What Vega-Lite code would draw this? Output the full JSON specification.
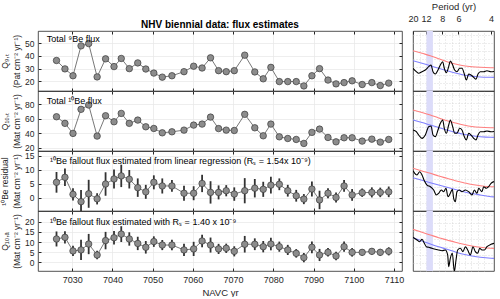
{
"$schema": "https://vega.github.io/schema/vega-lite/v6.json",
"background": "white",
"padding": {"left": 0, "top": 0, "right": 0, "bottom": 0},
"config": {
 "font": "Liberation Sans",
 "view": {"stroke": "#262626", "strokeWidth": 0.8},
 "axis": {"labelFontSize": 9, "labelColor": "#262626", "titleColor": "#262626", "titleFontSize": 8.5, "titleFontWeight": "normal", "gridColor": "#e6e6e6", "gridWidth": 0.7, "tickColor": "#262626", "domain": false, "titleLineHeight": 12},
 "axisY": {"labelFontSize": 8.5},
 "title": {"fontSize": 10, "color": "#000000"}
},
"datasets": {
 "flux": [
  {"yr":7026.1,"q9":36.4,"q10":62.5,"res":5.5,"rlo":1.8,"rhi":9.2,"qa":11.5,"alo":7.8,"ahi":15.2},
  {"yr":7028.2,"q9":29.8,"q10":53.4,"res":7.3,"rlo":4.2,"rhi":10.4,"qa":12.3,"alo":9.3,"ahi":15.3},
  {"yr":7030.2,"q9":24.4,"q10":39.6,"res":1.2,"rlo":-1.0,"rhi":3.4,"qa":5.6,"alo":3.1,"ahi":8.1},
  {"yr":7032.2,"q9":47.9,"q10":72.7,"res":-1.4,"rlo":-5.6,"rhi":2.8,"qa":6.1,"alo":1.1,"ahi":11.1},
  {"yr":7034.1,"q9":49.7,"q10":78.6,"res":1.4,"rlo":-3.6,"rhi":6.4,"qa":9.0,"alo":4.0,"ahi":14.0},
  {"yr":7036.2,"q9":23.5,"q10":35.9,"res":-0.4,"rlo":-2.4,"rhi":1.6,"qa":3.6,"alo":1.5,"ahi":5.7},
  {"yr":7038.3,"q9":37.7,"q10":63.9,"res":4.9,"rlo":0.7,"rhi":9.1,"qa":10.7,"alo":6.4,"ahi":15.0},
  {"yr":7040.4,"q9":31.6,"q10":55.6,"res":6.7,"rlo":3.3,"rhi":10.1,"qa":12.1,"alo":8.8,"ahi":15.4},
  {"yr":7042.2,"q9":38.0,"q10":67.1,"res":7.8,"rlo":3.8,"rhi":11.8,"qa":13.9,"alo":10.0,"ahi":17.8},
  {"yr":7044.2,"q9":30.0,"q10":53.4,"res":6.6,"rlo":3.3,"rhi":9.9,"qa":11.5,"alo":8.2,"ahi":14.8},
  {"yr":7046.3,"q9":34.5,"q10":57.9,"res":3.6,"rlo":0.3,"rhi":6.9,"qa":9.3,"alo":6.0,"ahi":12.6},
  {"yr":7048.3,"q9":29.7,"q10":48.7,"res":2.1,"rlo":-0.4,"rhi":4.6,"qa":7.4,"alo":4.3,"ahi":10.5},
  {"yr":7050.3,"q9":26.5,"q10":46.4,"res":5.5,"rlo":3.0,"rhi":8.0,"qa":10.2,"alo":7.6,"ahi":12.8},
  {"yr":7052.4,"q9":23.3,"q10":40.4,"res":4.2,"rlo":1.5,"rhi":6.9,"qa":8.5,"alo":6.0,"ahi":11.0},
  {"yr":7054.8,"q9":24.4,"q10":41.8,"res":4.2,"rlo":2.1,"rhi":6.3,"qa":8.5,"alo":5.9,"ahi":11.1},
  {"yr":7057.8,"q9":27.6,"q10":44.1,"res":1.6,"rlo":-1.1,"rhi":4.3,"qa":6.1,"alo":3.1,"ahi":9.1},
  {"yr":7060.2,"q9":31.9,"q10":51.0,"res":1.6,"rlo":-0.9,"rhi":4.1,"qa":6.6,"alo":3.1,"ahi":10.1},
  {"yr":7062.3,"q9":30.5,"q10":52.4,"res":5.1,"rlo":2.0,"rhi":8.2,"qa":10.5,"alo":7.4,"ahi":13.6},
  {"yr":7064.4,"q9":38.5,"q10":62.0,"res":1.9,"rlo":-2.1,"rhi":5.9,"qa":8.5,"alo":4.8,"ahi":12.2},
  {"yr":7066.4,"q9":28.4,"q10":46.2,"res":1.9,"rlo":-0.6,"rhi":4.4,"qa":6.6,"alo":4.1,"ahi":9.1},
  {"yr":7068.3,"q9":27.6,"q10":44.1,"res":2.5,"rlo":0.5,"rhi":4.5,"qa":6.9,"alo":4.6,"ahi":9.2},
  {"yr":7070.3,"q9":28.4,"q10":43.6,"res":1.3,"rlo":-1.1,"rhi":3.7,"qa":5.4,"alo":2.9,"ahi":7.9},
  {"yr":7072.9,"q9":40.6,"q10":65.8,"res":2.5,"rlo":-2.0,"rhi":7.0,"qa":8.9,"alo":4.8,"ahi":13.0},
  {"yr":7075.4,"q9":27.4,"q10":47.3,"res":3.4,"rlo":0.1,"rhi":6.7,"qa":8.9,"alo":6.0,"ahi":11.8},
  {"yr":7077.5,"q9":22.0,"q10":36.3,"res":3.0,"rlo":0.3,"rhi":5.7,"qa":7.7,"alo":4.9,"ahi":10.5},
  {"yr":7079.4,"q9":31.0,"q10":52.4,"res":4.5,"rlo":1.5,"rhi":7.5,"qa":9.0,"alo":5.9,"ahi":12.1},
  {"yr":7081.5,"q9":19.8,"q10":34.9,"res":4.8,"rlo":2.7,"rhi":6.9,"qa":7.7,"alo":5.2,"ahi":10.2},
  {"yr":7083.6,"q9":19.8,"q10":32.6,"res":2.5,"rlo":0.4,"rhi":4.6,"qa":6.1,"alo":3.6,"ahi":8.6},
  {"yr":7085.7,"q9":19.8,"q10":31.3,"res":0.7,"rlo":-1.4,"rhi":2.8,"qa":4.4,"alo":2.3,"ahi":6.5},
  {"yr":7087.6,"q9":16.4,"q10":25.8,"res":-0.5,"rlo":-2.3,"rhi":1.3,"qa":2.3,"alo":0.0,"ahi":4.6},
  {"yr":7089.6,"q9":24.4,"q10":41.0,"res":3.1,"rlo":0.4,"rhi":5.8,"qa":7.4,"alo":4.5,"ahi":10.3},
  {"yr":7091.5,"q9":30.0,"q10":45.5,"res":-0.8,"rlo":-4.1,"rhi":2.5,"qa":3.6,"alo":0.6,"ahi":6.6},
  {"yr":7093.6,"q9":21.0,"q10":34.0,"res":1.6,"rlo":-0.2,"rhi":3.4,"qa":4.9,"alo":2.8,"ahi":7.0},
  {"yr":7095.6,"q9":18.0,"q10":28.0,"res":0.1,"rlo":-1.7,"rhi":1.9,"qa":3.1,"alo":1.0,"ahi":5.2},
  {"yr":7097.6,"q9":19.0,"q10":33.6,"res":4.2,"rlo":2.1,"rhi":6.3,"qa":7.7,"alo":5.2,"ahi":10.2},
  {"yr":7099.6,"q9":20.4,"q10":33.6,"res":1.0,"rlo":-1.1,"rhi":3.1,"qa":4.9,"alo":2.8,"ahi":7.0},
  {"yr":7102.1,"q9":17.5,"q10":29.0,"res":1.8,"rlo":0.3,"rhi":3.3,"qa":4.9,"alo":3.3,"ahi":6.5},
  {"yr":7104.5,"q9":19.0,"q10":31.7,"res":1.9,"rlo":0.1,"rhi":3.7,"qa":5.4,"alo":3.8,"ahi":7.0},
  {"yr":7106.6,"q9":16.7,"q10":27.6,"res":1.9,"rlo":0.2,"rhi":3.6,"qa":4.9,"alo":3.2,"ahi":6.6},
  {"yr":7108.7,"q9":18.6,"q10":31.3,"res":2.1,"rlo":0.2,"rhi":4.0,"qa":5.4,"alo":3.4,"ahi":7.4}
 ],
 "s1": [
  {"s":"r","f":0.05,"v":6.72},{"s":"r","f":0.0731,"v":6.28},{"s":"r","f":0.0944,"v":5.88},{"s":"r","f":0.1158,"v":5.37},{"s":"r","f":0.1372,"v":4.88},{"s":"r","f":0.1585,"v":4.5},{"s":"r","f":0.1799,"v":4.22},{"s":"r","f":0.2013,"v":4.05},{"s":"r","f":0.2226,"v":3.95},{"s":"r","f":0.25,"v":3.88},{"s":"r","f":0.2577,"v":3.87},
  {"s":"b","f":0.05,"v":5.05},{"s":"b","f":0.0731,"v":4.63},{"s":"b","f":0.0944,"v":4.22},{"s":"b","f":0.1158,"v":3.78},{"s":"b","f":0.1372,"v":3.38},{"s":"b","f":0.1585,"v":3.0},{"s":"b","f":0.1799,"v":2.67},{"s":"b","f":0.2013,"v":2.47},{"s":"b","f":0.2226,"v":2.33},{"s":"b","f":0.25,"v":2.28},{"s":"b","f":0.2577,"v":2.27},
  {"s":"k","f":0.05,"v":3.78},{"s":"k","f":0.0585,"v":3.22},{"s":"k","f":0.0645,"v":2.95},{"s":"k","f":0.0731,"v":3.22},{"s":"k","f":0.0816,"v":3.5},{"s":"k","f":0.0902,"v":4.05},{"s":"k","f":0.0962,"v":4.33},{"s":"k","f":0.1013,"v":3.22},{"s":"k","f":0.1073,"v":2.83},{"s":"k","f":0.1141,"v":3.5},{"s":"k","f":0.1201,"v":4.33},{"s":"k","f":0.1261,"v":4.88},{"s":"k","f":0.1303,"v":3.78},{"s":"k","f":0.1355,"v":3.05},{"s":"k","f":0.1415,"v":4.05},{"s":"k","f":0.1457,"v":5.0},{"s":"k","f":0.1517,"v":4.33},{"s":"k","f":0.1568,"v":3.5},{"s":"k","f":0.1628,"v":3.22},{"s":"k","f":0.1697,"v":3.78},{"s":"k","f":0.1756,"v":3.78},{"s":"k","f":0.1816,"v":2.83},{"s":"k","f":0.1868,"v":1.83},{"s":"k","f":0.1927,"v":2.83},{"s":"k","f":0.1987,"v":2.67},{"s":"k","f":0.2056,"v":2.28},{"s":"k","f":0.2115,"v":1.95},{"s":"k","f":0.2167,"v":2.83},{"s":"k","f":0.2226,"v":3.22},{"s":"k","f":0.2312,"v":3.22},{"s":"k","f":0.2397,"v":3.38},{"s":"k","f":0.25,"v":3.22},{"s":"k","f":0.2577,"v":3.25}
 ],
 "s2": [
  {"s":"r","f":0.05,"v":6.83},{"s":"r","f":0.0731,"v":6.42},{"s":"r","f":0.0944,"v":6.0},{"s":"r","f":0.1158,"v":5.5},{"s":"r","f":0.1372,"v":5.05},{"s":"r","f":0.1585,"v":4.67},{"s":"r","f":0.1799,"v":4.33},{"s":"r","f":0.2013,"v":4.08},{"s":"r","f":0.2226,"v":3.95},{"s":"r","f":0.25,"v":3.88},{"s":"r","f":0.2577,"v":3.87},
  {"s":"b","f":0.05,"v":5.17},{"s":"b","f":0.0731,"v":4.75},{"s":"b","f":0.0944,"v":4.33},{"s":"b","f":0.1158,"v":3.92},{"s":"b","f":0.1372,"v":3.5},{"s":"b","f":0.1585,"v":3.12},{"s":"b","f":0.1799,"v":2.78},{"s":"b","f":0.2013,"v":2.53},{"s":"b","f":0.2226,"v":2.38},{"s":"b","f":0.25,"v":2.28},{"s":"b","f":0.2577,"v":2.27},
  {"s":"k","f":0.05,"v":3.5},{"s":"k","f":0.0585,"v":3.22},{"s":"k","f":0.0645,"v":2.67},{"s":"k","f":0.0731,"v":2.11},{"s":"k","f":0.0816,"v":2.67},{"s":"k","f":0.0902,"v":4.05},{"s":"k","f":0.0962,"v":4.17},{"s":"k","f":0.1013,"v":2.67},{"s":"k","f":0.1073,"v":2.39},{"s":"k","f":0.1141,"v":3.5},{"s":"k","f":0.1201,"v":4.61},{"s":"k","f":0.1261,"v":5.17},{"s":"k","f":0.1303,"v":3.78},{"s":"k","f":0.1355,"v":2.95},{"s":"k","f":0.1415,"v":4.33},{"s":"k","f":0.1457,"v":5.17},{"s":"k","f":0.1517,"v":4.05},{"s":"k","f":0.1568,"v":2.95},{"s":"k","f":0.1628,"v":2.95},{"s":"k","f":0.1697,"v":3.78},{"s":"k","f":0.1756,"v":3.5},{"s":"k","f":0.1816,"v":2.39},{"s":"k","f":0.1868,"v":1.83},{"s":"k","f":0.1927,"v":2.95},{"s":"k","f":0.1987,"v":2.67},{"s":"k","f":0.2056,"v":2.11},{"s":"k","f":0.2115,"v":1.83},{"s":"k","f":0.2167,"v":2.67},{"s":"k","f":0.2226,"v":3.22},{"s":"k","f":0.2312,"v":3.22},{"s":"k","f":0.2397,"v":3.33},{"s":"k","f":0.25,"v":3.22},{"s":"k","f":0.2577,"v":3.25}
 ],
 "s3": [
  {"s":"r","f":0.05,"v":7.12},{"s":"r","f":0.0731,"v":6.67},{"s":"r","f":0.0944,"v":6.28},{"s":"r","f":0.1158,"v":5.83},{"s":"r","f":0.1372,"v":5.45},{"s":"r","f":0.1585,"v":5.05},{"s":"r","f":0.1799,"v":4.72},{"s":"r","f":0.2013,"v":4.42},{"s":"r","f":0.2226,"v":4.22},{"s":"r","f":0.25,"v":4.05},{"s":"r","f":0.2577,"v":4.03},
  {"s":"b","f":0.05,"v":5.55},{"s":"b","f":0.0731,"v":5.12},{"s":"b","f":0.0944,"v":4.72},{"s":"b","f":0.1158,"v":4.33},{"s":"b","f":0.1372,"v":3.95},{"s":"b","f":0.1585,"v":3.58},{"s":"b","f":0.1799,"v":3.22},{"s":"b","f":0.2013,"v":2.92},{"s":"b","f":0.2226,"v":2.67},{"s":"b","f":0.25,"v":2.38},{"s":"b","f":0.2577,"v":2.35},
  {"s":"k","f":0.05,"v":6.72},{"s":"k","f":0.0603,"v":6.0},{"s":"k","f":0.0671,"v":6.55},{"s":"k","f":0.0731,"v":6.0},{"s":"k","f":0.0791,"v":5.05},{"s":"k","f":0.0859,"v":4.33},{"s":"k","f":0.0944,"v":4.05},{"s":"k","f":0.103,"v":3.5},{"s":"k","f":0.1098,"v":2.67},{"s":"k","f":0.1158,"v":2.95},{"s":"k","f":0.1226,"v":3.5},{"s":"k","f":0.1286,"v":3.22},{"s":"k","f":0.1346,"v":3.78},{"s":"k","f":0.1397,"v":2.38},{"s":"k","f":0.1457,"v":2.95},{"s":"k","f":0.1509,"v":3.61},{"s":"k","f":0.1543,"v":2.11},{"s":"k","f":0.1585,"v":1.55},{"s":"k","f":0.1628,"v":3.22},{"s":"k","f":0.1688,"v":3.5},{"s":"k","f":0.1756,"v":3.22},{"s":"k","f":0.1842,"v":3.5},{"s":"k","f":0.1927,"v":3.22},{"s":"k","f":0.2013,"v":2.67},{"s":"k","f":0.2073,"v":3.5},{"s":"k","f":0.2141,"v":2.95},{"s":"k","f":0.2184,"v":3.78},{"s":"k","f":0.2269,"v":3.22},{"s":"k","f":0.2312,"v":4.05},{"s":"k","f":0.238,"v":3.78},{"s":"k","f":0.244,"v":4.05},{"s":"k","f":0.25,"v":4.61},{"s":"k","f":0.2577,"v":4.9}
 ],
 "s4": [
  {"s":"r","f":0.05,"v":6.95},{"s":"r","f":0.0731,"v":6.45},{"s":"r","f":0.0944,"v":6.0},{"s":"r","f":0.1158,"v":5.55},{"s":"r","f":0.1372,"v":5.17},{"s":"r","f":0.1585,"v":4.78},{"s":"r","f":0.1799,"v":4.45},{"s":"r","f":0.2013,"v":4.17},{"s":"r","f":0.2226,"v":3.95},{"s":"r","f":0.25,"v":3.78},{"s":"r","f":0.2577,"v":3.77},
  {"s":"b","f":0.05,"v":5.55},{"s":"b","f":0.0731,"v":5.0},{"s":"b","f":0.0944,"v":4.5},{"s":"b","f":0.1158,"v":4.03},{"s":"b","f":0.1372,"v":3.62},{"s":"b","f":0.1585,"v":3.17},{"s":"b","f":0.1799,"v":2.78},{"s":"b","f":0.2013,"v":2.5},{"s":"b","f":0.2226,"v":2.28},{"s":"b","f":0.25,"v":2.12},{"s":"b","f":0.2577,"v":2.1},
  {"s":"k","f":0.05,"v":5.62},{"s":"k","f":0.0603,"v":5.17},{"s":"k","f":0.0671,"v":4.88},{"s":"k","f":0.0731,"v":5.28},{"s":"k","f":0.0791,"v":4.61},{"s":"k","f":0.0842,"v":4.05},{"s":"k","f":0.0902,"v":3.95},{"s":"k","f":0.0987,"v":3.78},{"s":"k","f":0.1073,"v":3.62},{"s":"k","f":0.1158,"v":3.5},{"s":"k","f":0.1244,"v":3.38},{"s":"k","f":0.1329,"v":3.5},{"s":"k","f":0.1389,"v":2.67},{"s":"k","f":0.1415,"v":0.72},{"s":"k","f":0.1457,"v":2.12},{"s":"k","f":0.1509,"v":2.95},{"s":"k","f":0.156,"v":-0.1},{"s":"k","f":0.1603,"v":1.83},{"s":"k","f":0.1645,"v":3.5},{"s":"k","f":0.1714,"v":3.78},{"s":"k","f":0.1782,"v":3.22},{"s":"k","f":0.1842,"v":4.05},{"s":"k","f":0.1902,"v":3.5},{"s":"k","f":0.197,"v":2.67},{"s":"k","f":0.2038,"v":4.05},{"s":"k","f":0.2098,"v":3.22},{"s":"k","f":0.2158,"v":2.95},{"s":"k","f":0.2209,"v":3.78},{"s":"k","f":0.2269,"v":3.5},{"s":"k","f":0.2329,"v":3.5},{"s":"k","f":0.2397,"v":4.05},{"s":"k","f":0.25,"v":4.45},{"s":"k","f":0.2577,"v":4.6}
 ]
},
"columns": 2,
"align": "each",
"bounds": "flush",
"spacing": {"row": 0, "column": 11},
"concat": [
 {
  "width": 364, "height": 60,
  "title": {"text": "NHV biennial data: flux estimates", "fontSize": 10, "fontWeight": "bold", "offset": 1, "anchor": "middle"},
  "data": {"name": "flux"},
  "layer": [
   {"mark": {"type": "line", "color": "#555555", "strokeWidth": 0.8, "clip": true},
    "encoding": {"x": {"field": "yr", "type": "quantitative", "scale": {"domain": [7021.5, 7112]}, "axis": {"orient": "bottom", "values": [7030,7040,7050,7060,7070,7080,7090,7100,7110], "labels": false, "tickSize": -3, "title": null, "grid": true}},
                 "y": {"field": "q9", "type": "quantitative", "scale": {"domain": [12.4, 59.6]}, "axis": {"values": [20,30,40,50], "tickSize": -3, "grid": true, "labelPadding": 7, "titlePadding": 3, "title": ["Q₉,ₜ", "(Pat cm⁻² yr⁻¹)"]}}}},
   {"mark": {"type": "circle", "size": 42, "fill": "#8c8c8c", "stroke": "#3a3a3a", "strokeWidth": 0.7, "opacity": 1, "clip": true},
    "encoding": {"x": {"field": "yr", "type": "quantitative", "scale": {"domain": [7021.5, 7112]}, "axis": null}, "y": {"field": "q9", "type": "quantitative", "scale": {"domain": [12.4, 59.6]}, "axis": null}}},
   {"data": {"values": [{}]}, "mark": {"type": "text", "align": "left", "fontSize": 9, "color": "#000000", "text": "Total ⁹Be flux"},
    "encoding": {"x": {"datum": 7023.7, "type": "quantitative", "scale": {"domain": [7021.5, 7112]}, "axis": {"orient": "top", "values": [7030,7040,7050,7060,7070,7080,7090,7100,7110], "labels": false, "tickSize": -3, "grid": false, "title": null}},
                 "y": {"datum": 53.2, "type": "quantitative", "scale": {"domain": [12.4, 59.6]}, "axis": {"orient": "right", "values": [20,30,40,50], "labels": false, "tickSize": -3, "grid": false, "title": null}}}}
  ],
  "resolve": {"axis": {"x": "independent", "y": "independent"}}
 },
 {
  "width": 81, "height": 60,
  "layer": [
   {"data": {"values": [{"f1": 0.0845, "f2": 0.101}]}, "mark": {"type": "rect", "color": "#dcdcfa"},
    "encoding": {"x": {"field": "f1", "type": "quantitative", "scale": {"domain": [0.05, 0.2577]}, "axis": {"orient": "bottom", "values": [0.0667,0.0833,0.1,0.1167,0.1333,0.15,0.1667,0.1833,0.2,0.2167,0.2333], "labels": false, "ticks": false, "grid": true, "gridDash": [1,2], "gridColor": "#cccccc", "title": null}}, "x2": {"field": "f2"}}},
   {"data": {"name": "s1"}, "mark": {"type": "line", "strokeWidth": 1.1, "interpolate": "monotone", "clip": true},
    "encoding": {"x": {"field": "f", "type": "quantitative", "scale": {"domain": [0.05, 0.2577]}, "axis": {"orient": "top", "values": [0.05, 0.083333, 0.125, 0.166667, 0.25], "labelExpr": "round(1/datum.value)", "tickSize": -3, "labelPadding": 11, "labelFlush": false, "grid": false, "title": "Period (yr)", "titleFontSize": 9.5, "titlePadding": 3}},
                 "y": {"field": "v", "type": "quantitative", "scale": {"domain": [0, 10]}, "axis": {"values": [1.33,2.67,4,5.33,6.67,8,9.33], "labels": false, "ticks": false, "grid": true, "gridDash": [1,2], "gridColor": "#cccccc", "title": null}},
                 "color": {"field": "s", "type": "nominal", "scale": {"domain": ["r","b","k"], "range": ["#ff8080","#8080ff","#000000"]}, "legend": null}}}
  ],
  "resolve": {"axis": {"x": "independent"}}
 },
 {
  "width": 364, "height": 60,
  "data": {"name": "flux"},
  "layer": [
   {"mark": {"type": "line", "color": "#555555", "strokeWidth": 0.8, "clip": true},
    "encoding": {"x": {"field": "yr", "type": "quantitative", "scale": {"domain": [7021.5, 7112]}, "axis": {"orient": "bottom", "values": [7030,7040,7050,7060,7070,7080,7090,7100,7110], "labels": false, "tickSize": -3, "title": null, "grid": true}},
                 "y": {"field": "q10", "type": "quantitative", "scale": {"domain": [15.4, 97.9]}, "axis": {"values": [20,40,60,80], "tickSize": -3, "grid": true, "labelPadding": 7, "titlePadding": 3, "title": ["Q₁₀,ₜ", "(Mat cm⁻² yr⁻¹)"]}}}},
   {"mark": {"type": "circle", "size": 42, "fill": "#8c8c8c", "stroke": "#3a3a3a", "strokeWidth": 0.7, "opacity": 1, "clip": true},
    "encoding": {"x": {"field": "yr", "type": "quantitative", "scale": {"domain": [7021.5, 7112]}, "axis": null}, "y": {"field": "q10", "type": "quantitative", "scale": {"domain": [15.4, 97.9]}, "axis": null}}},
   {"data": {"values": [{}]}, "mark": {"type": "text", "align": "left", "fontSize": 9, "color": "#000000", "text": "Total ¹⁰Be flux"},
    "encoding": {"x": {"datum": 7023.7, "type": "quantitative", "scale": {"domain": [7021.5, 7112]}, "axis": {"orient": "top", "values": [7030,7040,7050,7060,7070,7080,7090,7100,7110], "labels": false, "tickSize": -3, "grid": false, "title": null}},
                 "y": {"datum": 84.8, "type": "quantitative", "scale": {"domain": [15.4, 97.9]}, "axis": {"orient": "right", "values": [20,40,60,80], "labels": false, "tickSize": -3, "grid": false, "title": null}}}}
  ],
  "resolve": {"axis": {"x": "independent", "y": "independent"}}
 },
 {
  "width": 81, "height": 60,
  "layer": [
   {"data": {"values": [{"f1": 0.0845, "f2": 0.101}]}, "mark": {"type": "rect", "color": "#dcdcfa"},
    "encoding": {"x": {"field": "f1", "type": "quantitative", "scale": {"domain": [0.05, 0.2577]}, "axis": {"orient": "bottom", "values": [0.0667,0.0833,0.1,0.1167,0.1333,0.15,0.1667,0.1833,0.2,0.2167,0.2333], "labels": false, "ticks": false, "grid": true, "gridDash": [1,2], "gridColor": "#cccccc", "title": null}}, "x2": {"field": "f2"}}},
   {"data": {"name": "s2"}, "mark": {"type": "line", "strokeWidth": 1.1, "interpolate": "monotone", "clip": true},
    "encoding": {"x": {"field": "f", "type": "quantitative", "scale": {"domain": [0.05, 0.2577]}, "axis": null},
                 "y": {"field": "v", "type": "quantitative", "scale": {"domain": [0, 10]}, "axis": {"values": [1.33,2.67,4,5.33,6.67,8,9.33], "labels": false, "ticks": false, "grid": true, "gridDash": [1,2], "gridColor": "#cccccc", "title": null}},
                 "color": {"field": "s", "type": "nominal", "scale": {"domain": ["r","b","k"], "range": ["#ff8080","#8080ff","#000000"]}, "legend": null}}}
  ],
  "resolve": {"axis": {"x": "independent"}}
 },
 {
  "width": 364, "height": 60,
  "data": {"name": "flux"},
  "layer": [
   {"mark": {"type": "rule", "color": "#333333", "strokeWidth": 1.8, "clip": true},
    "encoding": {"x": {"field": "yr", "type": "quantitative", "scale": {"domain": [7021.5, 7112]}, "axis": null}, "y": {"field": "rlo", "type": "quantitative", "scale": {"domain": [-4.75, 16.7]}, "axis": null}, "y2": {"field": "rhi"}}},
   {"mark": {"type": "line", "color": "#555555", "strokeWidth": 0.8, "clip": true},
    "encoding": {"x": {"field": "yr", "type": "quantitative", "scale": {"domain": [7021.5, 7112]}, "axis": {"orient": "bottom", "values": [7030,7040,7050,7060,7070,7080,7090,7100,7110], "labels": false, "tickSize": -3, "title": null, "grid": true}},
                 "y": {"field": "res", "type": "quantitative", "scale": {"domain": [-4.75, 16.7]}, "axis": {"values": [0,5,10,15], "tickSize": -3, "grid": true, "labelPadding": 7, "titlePadding": 3, "title": ["¹⁰Be residual", "(Mat cm⁻² yr⁻¹)"]}}}},
   {"mark": {"type": "circle", "size": 42, "fill": "#8c8c8c", "stroke": "#3a3a3a", "strokeWidth": 0.7, "opacity": 1, "clip": true},
    "encoding": {"x": {"field": "yr", "type": "quantitative", "scale": {"domain": [7021.5, 7112]}, "axis": null}, "y": {"field": "res", "type": "quantitative", "scale": {"domain": [-4.75, 16.7]}, "axis": null}}},
   {"data": {"values": [{}]}, "mark": {"type": "text", "align": "left", "fontSize": 9, "color": "#000000", "text": "¹⁰Be fallout flux estimated from linear regression (Rₛ = 1.54x 10⁻⁹)"},
    "encoding": {"x": {"datum": 7024.5, "type": "quantitative", "scale": {"domain": [7021.5, 7112]}, "axis": {"orient": "top", "values": [7030,7040,7050,7060,7070,7080,7090,7100,7110], "labels": false, "tickSize": -3, "grid": false, "title": null}},
                 "y": {"datum": 13.1, "type": "quantitative", "scale": {"domain": [-4.75, 16.7]}, "axis": {"orient": "right", "values": [0,5,10,15], "labels": false, "tickSize": -3, "grid": false, "title": null}}}}
  ],
  "resolve": {"axis": {"x": "independent", "y": "independent"}}
 },
 {
  "width": 81, "height": 60,
  "layer": [
   {"data": {"values": [{"f1": 0.0845, "f2": 0.101}]}, "mark": {"type": "rect", "color": "#dcdcfa"},
    "encoding": {"x": {"field": "f1", "type": "quantitative", "scale": {"domain": [0.05, 0.2577]}, "axis": {"orient": "bottom", "values": [0.0667,0.0833,0.1,0.1167,0.1333,0.15,0.1667,0.1833,0.2,0.2167,0.2333], "labels": false, "ticks": false, "grid": true, "gridDash": [1,2], "gridColor": "#cccccc", "title": null}}, "x2": {"field": "f2"}}},
   {"data": {"name": "s3"}, "mark": {"type": "line", "strokeWidth": 1.1, "interpolate": "monotone", "clip": true},
    "encoding": {"x": {"field": "f", "type": "quantitative", "scale": {"domain": [0.05, 0.2577]}, "axis": null},
                 "y": {"field": "v", "type": "quantitative", "scale": {"domain": [0, 10]}, "axis": {"values": [1.33,2.67,4,5.33,6.67,8,9.33], "labels": false, "ticks": false, "grid": true, "gridDash": [1,2], "gridColor": "#cccccc", "title": null}},
                 "color": {"field": "s", "type": "nominal", "scale": {"domain": ["r","b","k"], "range": ["#ff8080","#8080ff","#000000"]}, "legend": null}}}
  ],
  "resolve": {"axis": {"x": "independent"}}
 },
 {
  "width": 364, "height": 60,
  "data": {"name": "flux"},
  "layer": [
   {"mark": {"type": "rule", "color": "#333333", "strokeWidth": 1.8, "clip": true},
    "encoding": {"x": {"field": "yr", "type": "quantitative", "scale": {"domain": [7021.5, 7112]}, "axis": null}, "y": {"field": "alo", "type": "quantitative", "scale": {"domain": [-4.3, 25.3]}, "axis": null}, "y2": {"field": "ahi"}}},
   {"mark": {"type": "line", "color": "#555555", "strokeWidth": 0.8, "clip": true},
    "encoding": {"x": {"field": "yr", "type": "quantitative", "scale": {"domain": [7021.5, 7112]}, "axis": {"orient": "bottom", "values": [7030,7040,7050,7060,7070,7080,7090,7100,7110], "format": "d", "labels": true, "tickSize": -3, "labelPadding": 7, "title": "NAVC yr", "titleFontSize": 9.5, "titlePadding": 3, "grid": true, "labelFlush": false}},
                 "y": {"field": "qa", "type": "quantitative", "scale": {"domain": [-4.3, 25.3]}, "axis": {"values": [0,5,10,15,20], "tickSize": -3, "grid": true, "labelPadding": 7, "titlePadding": 3, "title": ["Q₁₀,ₐ", "(Mat cm⁻² yr⁻¹)"]}}}},
   {"mark": {"type": "circle", "size": 42, "fill": "#8c8c8c", "stroke": "#3a3a3a", "strokeWidth": 0.7, "opacity": 1, "clip": true},
    "encoding": {"x": {"field": "yr", "type": "quantitative", "scale": {"domain": [7021.5, 7112]}, "axis": null}, "y": {"field": "qa", "type": "quantitative", "scale": {"domain": [-4.3, 25.3]}, "axis": null}}},
   {"data": {"values": [{}]}, "mark": {"type": "text", "align": "left", "fontSize": 9, "color": "#000000", "text": "¹⁰Be fallout flux estimated with Rₛ = 1.40 x 10⁻⁹"},
    "encoding": {"x": {"datum": 7024.5, "type": "quantitative", "scale": {"domain": [7021.5, 7112]}, "axis": {"orient": "top", "values": [7030,7040,7050,7060,7070,7080,7090,7100,7110], "labels": false, "tickSize": -3, "grid": false, "title": null}},
                 "y": {"datum": 20.1, "type": "quantitative", "scale": {"domain": [-4.3, 25.3]}, "axis": {"orient": "right", "values": [0,5,10,15,20], "labels": false, "tickSize": -3, "grid": false, "title": null}}}}
  ],
  "resolve": {"axis": {"x": "independent", "y": "independent"}}
 },
 {
  "width": 81, "height": 60,
  "layer": [
   {"data": {"values": [{"f1": 0.0845, "f2": 0.101}]}, "mark": {"type": "rect", "color": "#dcdcfa"},
    "encoding": {"x": {"field": "f1", "type": "quantitative", "scale": {"domain": [0.05, 0.2577]}, "axis": {"orient": "bottom", "values": [0.0667,0.0833,0.1,0.1167,0.1333,0.15,0.1667,0.1833,0.2,0.2167,0.2333], "labels": false, "ticks": false, "grid": true, "gridDash": [1,2], "gridColor": "#cccccc", "title": null}}, "x2": {"field": "f2"}}},
   {"data": {"name": "s4"}, "mark": {"type": "line", "strokeWidth": 1.1, "interpolate": "monotone", "clip": true},
    "encoding": {"x": {"field": "f", "type": "quantitative", "scale": {"domain": [0.05, 0.2577]}, "axis": null},
                 "y": {"field": "v", "type": "quantitative", "scale": {"domain": [0, 10]}, "axis": {"values": [1.33,2.67,4,5.33,6.67,8,9.33], "labels": false, "ticks": false, "grid": true, "gridDash": [1,2], "gridColor": "#cccccc", "title": null}},
                 "color": {"field": "s", "type": "nominal", "scale": {"domain": ["r","b","k"], "range": ["#ff8080","#8080ff","#000000"]}, "legend": null}}}
  ],
  "resolve": {"axis": {"x": "independent"}}
 }
]
}
